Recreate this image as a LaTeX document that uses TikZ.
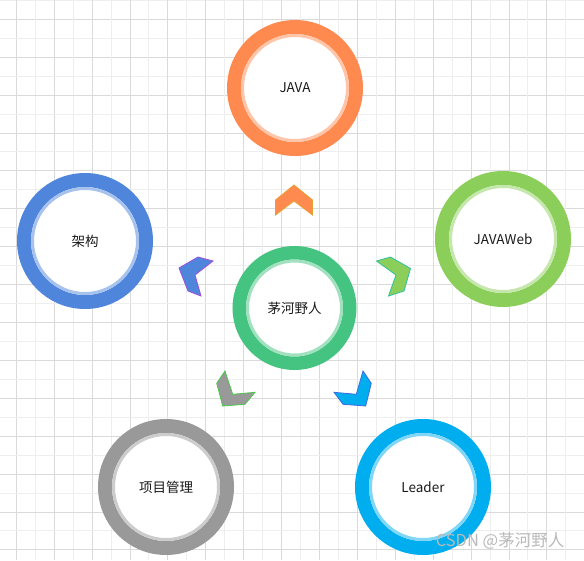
\documentclass[tikz,border=0pt]{standalone}
\usepackage{fontspec}
\setmainfont{Noto Sans CJK SC}
\definecolor{cJava}{HTML}{FF8A50}
\definecolor{cArch}{HTML}{4F86DC}
\definecolor{cWeb}{HTML}{8BCF5A}
\definecolor{cCenter}{HTML}{45C380}
\definecolor{cPM}{HTML}{999999}
\definecolor{cLeader}{HTML}{00AEEF}
\definecolor{gridMinor}{HTML}{EEEEEE}
\definecolor{gridMajor}{HTML}{DADADA}
\definecolor{sJava}{HTML}{E8A030}
\definecolor{sArch}{HTML}{9B4FDC}
\definecolor{sWeb}{HTML}{30BFA0}
\definecolor{sPM}{HTML}{4CC84C}
\definecolor{sLeader}{HTML}{3C6CE0}
\definecolor{txt}{HTML}{1A1A1A}
\begin{document}
\begin{tikzpicture}[x=1pt,y=-1pt,
  ring/.style={circle, inner sep=0pt, minimum size=122pt, draw=#1, line width=14pt, fill=white,
    text=txt, font=\fontsize{13.5}{15}\selectfont},
  bigring/.style={ring=#1, minimum size=110.5pt, line width=13.5pt},
  chev/.style 2 args={fill=#1, draw=#2, line width=0.8pt, line join=miter}]
\useasboundingbox (0,0) rectangle (584,560);
\fill[white] (0,0) rectangle (584,560);
\begin{scope}
\clip (0,0) rectangle (584,560);
\foreach \k in {-1,...,31} {
  \pgfmathsetmacro{\xx}{16.3+18.95*\k}
  \pgfmathsetmacro{\yy}{19.3+18.95*\k}
  \pgfmathtruncatemacro{\odd}{mod(\k+2,2)}
  \ifnum\odd=0
    \draw[gridMajor, line width=1pt] (\xx,0) -- (\xx,560);
    \draw[gridMajor, line width=1pt] (0,\yy) -- (584,\yy);
  \else
    \draw[gridMinor, line width=1pt] (\xx,0) -- (\xx,560);
    \draw[gridMinor, line width=1pt] (0,\yy) -- (584,\yy);
  \fi
}
\end{scope}

% rings
\node[ring=cJava] (java) at (295,88) {JAVA};
\node[ring=cArch] (arch) at (85,241) {架构};
\node[ring=cWeb] (web) at (503,239) {JAVAWeb};
\node[bigring=cCenter] (center) at (294.5,308) {茅河野人};
\node[ring=cPM] (pm) at (166,487) {项目管理};
\node[ring=cLeader] (leader) at (423,487) {Leader};

\foreach \n/\c in {java/cJava, arch/cArch, web/cWeb, pm/cPM, leader/cLeader}
  \draw[\c!50!white, line width=3pt] (\n.center) circle (52.5pt);
\draw[cCenter!50!white, line width=3pt] (center.center) circle (47pt);

% chevrons
\draw[chev={cJava}{sJava}] (275.5,215) -- (275.5,200) -- (294,185) -- (312.5,200) -- (312.5,215) -- (294,201) -- cycle;
\draw[chev={cArch}{sArch}] (179,268) -- (198,257) -- (213,261) -- (195,275) -- (201,296) -- (188,291) -- cycle;
\draw[chev={cWeb}{sWeb}] (376.5,261) -- (390.5,257) -- (410.5,268.5) -- (404,291) -- (388.5,296) -- (396,275) -- cycle;
\draw[chev={cPM}{sPM}] (225,371) -- (216.7,383.3) -- (222.7,406) -- (245,404.3) -- (255,392.3) -- (232.7,394.3) -- cycle;
\draw[chev={cLeader}{sLeader}] (363,371) -- (371.3,383.3) -- (365.7,406) -- (343,404.3) -- (334,392.3) -- (356.3,394.3) -- cycle;

% watermark
\node[text=gray!55, font=\fontsize{16.5}{18}\selectfont] (wm) at (500,541) {CSDN @茅河野人};
\end{tikzpicture}
\end{document}
